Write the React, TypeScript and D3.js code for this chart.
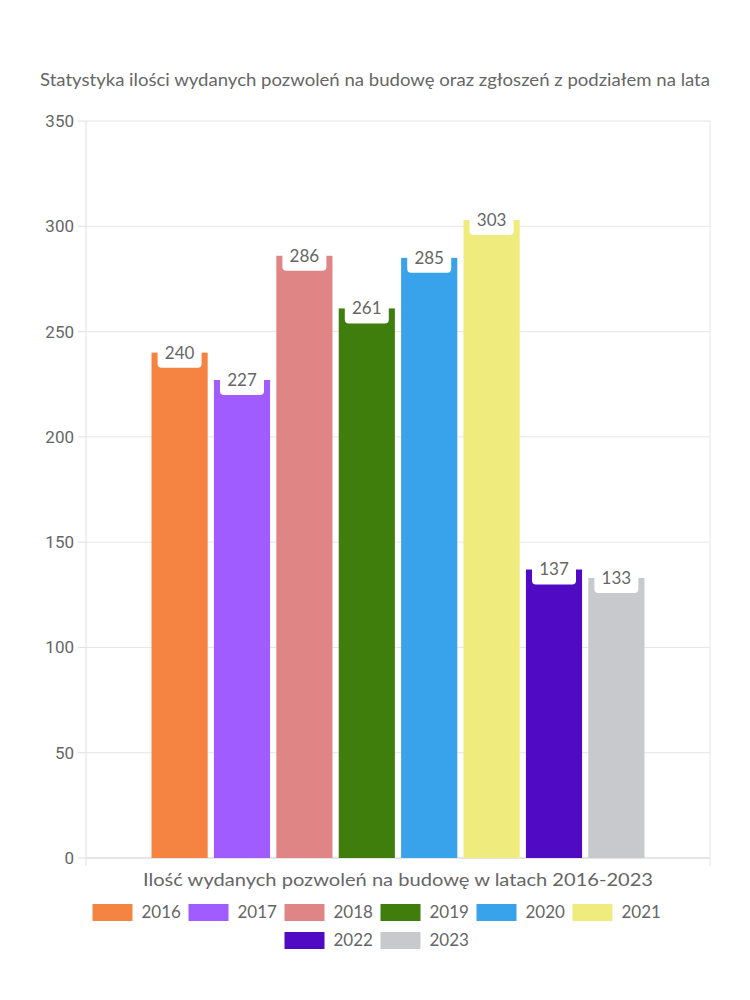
import React from "react";
import * as d3 from "d3";

const years = ["2016", "2017", "2018", "2019", "2020", "2021", "2022", "2023"];
const values = [240, 227, 286, 261, 285, 303, 137, 133];
const colors = ["#F58442", "#A05CFF", "#E08585", "#3F7D0D", "#38A3EA", "#F0EB7D", "#510AC4", "#C8C9CD"];
const yTicks = [0, 50, 100, 150, 200, 250, 300, 350];
const category = ["Ilość wydanych pozwoleń na budowę w latach 2016-2023"];
const title = "Statystyka ilości wydanych pozwoleń na budowę oraz zgłoszeń z podziałem na lata";

const W = 750, H = 1000;
const left = 86, right = 710, top = 121, bottom = 858;
const font = "Lato, 'Noto Sans', sans-serif";
const tickFont = "Roboto, 'Liberation Sans', sans-serif";

export default function App() {
  const y = d3.scaleLinear().domain([0, 350]).range([bottom, top]);
  const x0 = d3.scaleBand().domain(category).range([left, right]).paddingInner(0.2).paddingOuter(0.1);
  const x1 = d3.scaleBand().domain(years).range([0, x0.bandwidth()]).paddingInner(0.1).paddingOuter(0.05);

  const legendRows = [years.slice(0, 6), years.slice(6)];
  const itemW = (t: string) => 40 + 9 + t.length * 9 + 11;

  return (
    <svg width={W} height={H} style={{ position: "absolute", left: 0, top: 0, background: "#fff" }}>
      <text x={375} y={86} textAnchor="middle" fontFamily={font} fontSize={17} fill="#666"
        textLength={670} lengthAdjust="spacingAndGlyphs">{title}</text>
      {yTicks.map((t) => (
        <g key={t}>
          <line x1={left} x2={right} y1={y(t)} y2={y(t)} stroke={t === 0 ? "#ccc" : "#e6e6e6"} />
          <line x1={left - 8} x2={left} y1={y(t)} y2={y(t)} stroke="#e0e0e0" />
          <text x={left - 12} y={y(t)} dy="0.35em" textAnchor="end" fontFamily={tickFont} fontSize={17} fill="#666">{t}</text>
        </g>
      ))}
      <line x1={left} x2={left} y1={top} y2={bottom + 8} stroke="#e0e0e0" />
      <line x1={right} x2={right} y1={top} y2={bottom + 8} stroke="#e6e6e6" />
      {years.map((yr, i) => {
        const bx = (x0(category[0]) as number) + (x1(yr) as number);
        const bw = x1.bandwidth();
        const by = y(values[i]);
        const cx = bx + bw / 2;
        return (
          <g key={yr}>
            <rect x={bx} y={by} width={bw} height={bottom - by} fill={colors[i]} />
            <rect x={cx - 22} y={by - 15} width={44} height={30} rx={4} fill="#fff" />
            <text x={cx} y={by} dy="0.35em" textAnchor="middle" fontFamily={font} fontSize={17} fill="#666">{values[i]}</text>
          </g>
        );
      })}
      <text x={398} y={886} textAnchor="middle" fontFamily={font} fontSize={17} fill="#666"
        textLength={510} lengthAdjust="spacingAndGlyphs">{category[0]}</text>
      {legendRows.map((row, r) => {
        const widths = row.map(itemW);
        const total = d3.sum(widths) - 11;
        let cur = 375 - total / 2;
        const ly = 904 + r * 28;
        return (
          <g key={r}>
            {row.map((yr, j) => {
              const idx = years.indexOf(yr);
              const sx = cur;
              cur += widths[j];
              return (
                <g key={yr}>
                  <rect x={sx} y={ly} width={40} height={17} fill={colors[idx]} />
                  <text x={sx + 49} y={ly + 8.5} dy="0.35em" fontFamily={font} fontSize={17} fill="#666">{yr}</text>
                </g>
              );
            })}
          </g>
        );
      })}
    </svg>
  );
}
